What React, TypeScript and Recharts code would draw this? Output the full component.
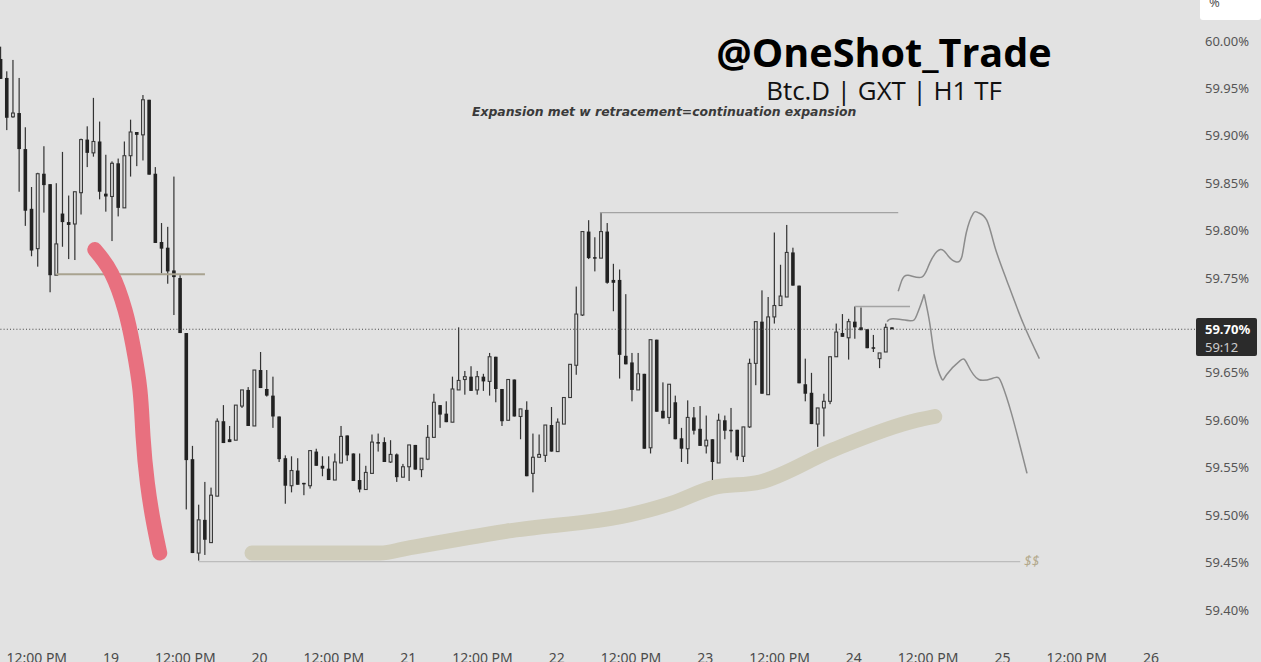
import React from "react";
import { ComposedChart, Bar, Line, XAxis, YAxis, ReferenceLine } from "recharts";

const FONT = "'Noto Sans', sans-serif";

const highs = [59.994,59.968,59.980,59.961,59.909,59.846,59.861,59.889,59.849,59.850,59.883,59.837,59.841,59.897,59.910,59.940,59.915,59.880,59.873,59.876,59.894,59.917,59.904,59.943,59.938,59.867,59.808,59.804,59.857,59.753,
59.692,59.573,59.511,59.535,59.529,59.602,59.616,59.594,59.616,59.632,59.635,59.653,59.672,59.653,59.646,59.604,59.563,59.562,59.560,59.534,59.568,59.570,59.562,59.562,59.565,59.594,59.584,59.565,59.565,59.552,
59.585,59.586,59.582,59.579,59.565,59.554,59.574,59.574,59.560,59.595,59.628,59.616,59.620,59.646,59.698,59.652,59.657,59.652,59.649,59.671,59.667,59.633,59.643,59.643,59.612,59.620,59.586,59.585,59.595,59.614,
59.602,59.624,59.659,59.741,59.799,59.811,59.793,59.819,59.808,59.765,59.759,59.733,59.671,59.671,59.649,59.685,59.685,59.640,59.638,59.626,59.592,59.621,59.614,59.615,59.605,59.580,59.607,59.605,59.613,59.590,
59.593,59.665,59.704,59.737,59.730,59.798,59.764,59.806,59.782,59.742,59.665,59.650,59.613,59.628,59.667,59.702,59.712,59.707,59.720,59.719,59.696,59.690,59.671,59.702,59.698];
const bodyTops = [59.981,59.961,59.924,59.924,59.886,59.823,59.860,59.860,59.849,59.786,59.818,59.809,59.841,59.896,59.896,59.894,59.894,59.839,59.871,59.871,59.879,59.904,59.904,59.938,59.938,59.860,59.788,59.782,59.758,59.750,
59.692,59.559,59.495,59.495,59.521,59.599,59.599,59.580,59.616,59.632,59.632,59.653,59.653,59.633,59.626,59.604,59.560,59.547,59.547,59.534,59.568,59.567,59.552,59.549,59.556,59.583,59.584,59.565,59.537,59.545,
59.577,59.577,59.577,59.564,59.564,59.551,59.574,59.574,59.560,59.582,59.619,59.616,59.607,59.633,59.642,59.646,59.646,59.646,59.646,59.667,59.667,59.633,59.643,59.643,59.612,59.611,59.561,59.564,59.595,59.595,
59.598,59.624,59.659,59.712,59.799,59.799,59.772,59.799,59.799,59.748,59.748,59.668,59.661,59.649,59.649,59.685,59.685,59.610,59.638,59.619,59.581,59.603,59.603,59.591,59.579,59.580,59.600,59.600,59.590,59.590,
59.593,59.660,59.704,59.704,59.709,59.721,59.731,59.777,59.777,59.742,59.638,59.629,59.613,59.620,59.667,59.693,59.692,59.704,59.704,59.698,59.696,59.677,59.671,59.698,59.698];
const bodyBottoms = [59.960,59.919,59.920,59.886,59.821,59.779,59.781,59.848,59.753,59.753,59.809,59.806,59.807,59.840,59.882,59.882,59.841,59.836,59.836,59.824,59.824,59.879,59.901,59.901,59.859,59.787,59.781,59.757,59.751,59.692,
59.558,59.460,59.460,59.474,59.471,59.520,59.576,59.577,59.579,59.615,59.594,59.594,59.634,59.626,59.604,59.559,59.531,59.531,59.532,59.533,59.531,59.552,59.549,59.537,59.537,59.555,59.563,59.536,59.527,59.527,
59.544,59.576,59.556,59.556,59.540,59.540,59.551,59.548,59.548,59.559,59.582,59.606,59.598,59.598,59.632,59.643,59.631,59.632,59.641,59.641,59.633,59.599,59.600,59.604,59.604,59.541,59.544,59.561,59.563,59.567,
59.567,59.596,59.624,59.658,59.711,59.771,59.771,59.771,59.745,59.745,59.669,59.659,59.632,59.632,59.570,59.571,59.609,59.602,59.603,59.580,59.570,59.570,59.589,59.573,59.573,59.556,59.555,59.589,59.589,59.562,
59.562,59.593,59.660,59.628,59.627,59.709,59.721,59.730,59.742,59.639,59.628,59.596,59.596,59.613,59.620,59.667,59.688,59.687,59.698,59.695,59.676,59.676,59.665,59.672,59.696];
const lows = [59.960,59.906,59.919,59.841,59.805,59.773,59.762,59.819,59.735,59.753,59.783,59.770,59.769,59.817,59.867,59.878,59.833,59.820,59.789,59.815,59.824,59.857,59.868,59.874,59.859,59.787,59.755,59.744,59.711,59.692,
59.506,59.460,59.452,59.458,59.471,59.520,59.576,59.577,59.579,59.613,59.594,59.594,59.634,59.625,59.592,59.556,59.512,59.524,59.532,59.521,59.528,59.552,59.541,59.537,59.537,59.555,59.557,59.536,59.524,59.527,
59.544,59.567,59.556,59.555,59.535,59.540,59.536,59.548,59.540,59.558,59.582,59.592,59.598,59.598,59.632,59.627,59.631,59.627,59.631,59.626,59.619,59.594,59.600,59.604,59.580,59.541,59.524,59.561,59.556,59.567,
59.567,59.596,59.624,59.648,59.710,59.770,59.757,59.771,59.744,59.715,59.644,59.659,59.620,59.632,59.570,59.565,59.609,59.602,59.596,59.580,59.556,59.554,59.585,59.573,59.565,59.523,59.555,59.580,59.566,59.558,
59.556,59.592,59.637,59.628,59.627,59.702,59.721,59.730,59.742,59.639,59.620,59.596,59.572,59.583,59.617,59.667,59.688,59.664,59.686,59.695,59.676,59.672,59.655,59.672,59.696];
const risingCandles = [2,6,9,12,13,15,18,20,21,23,32,34,35,38,39,41,47,50,54,55,59,60,63,65,66,68,69,70,73,74,75,77,79,82,84,86,87,88,90,91,92,93,94,97,103,105,108,111,114,116,120,121,122,124,125,126,127,132,133,134,135,137,142,143];

const redT = [15.2,17.9,20.1,21.4,22.5,23.0,23.7,24.7,25.7];
const redV = [59.780,59.755,59.716,59.678,59.632,59.583,59.534,59.492,59.460];
const beigeT = [40.6,61.3,65.6,81.7,103.3,108.6,115.1,122.7,134.5,148,150.9];
const beigeV = [59.460,59.460,59.465,59.483,59.503,59.513,59.529,59.535,59.569,59.600,59.604];
const upperPathT = [145.0,145.6,146.6,148.8,150.1,151.8,153.1,154.4,155.3,156,157.1,157.9,159.3,160.6,162.5,165.2,167.8];
const upperPathV = [59.736,59.748,59.753,59.751,59.766,59.780,59.773,59.767,59.773,59.798,59.818,59.819,59.811,59.783,59.748,59.702,59.665];
const lowerPathT = [143.2,144.2,146.9,148,149,149.3,150.1,150.9,152,152.8,155,156.1,158,160.6,161.7,163.3,165.8];
const lowerPathV = [59.704,59.707,59.705,59.711,59.729,59.729,59.702,59.667,59.644,59.648,59.663,59.660,59.643,59.645,59.639,59.607,59.544];

const priceTicks = [60,59.95,59.9,59.85,59.8,59.75,59.65,59.6,59.55,59.5,59.45,59.4];
const timeTicks = [5.83,17.83,29.83,41.83,53.83,65.83,77.83,89.83,101.83,113.83,125.83,137.83,149.83,161.83,173.83,185.83];
const timeLabels = ["12:00 PM","19","12:00 PM","20","12:00 PM","21","12:00 PM","22","12:00 PM","23","12:00 PM","24","12:00 PM","25","12:00 PM","26"];
const lastPrice = 59.696;

const pairs = (ts: number[], vs: number[]) => ts.map((t, i) => ({ t, v: vs[i] }));
const candles = highs.map((h, i) => ({
  t: i,
  wick: [lows[i], h],
  body: [bodyBottoms[i], bodyTops[i]],
  rising: risingCandles.includes(i),
}));

const xDomain: [number, number] = [-0.108, 192.94];
const yDomain: [number, number] = [59.3451, 60.0432];

const Wick = (p: any) => (
  <rect x={p.x + p.width / 2 - 0.6} y={p.y} width={1.2} height={Math.max(p.height, 1)} fill="#333" />
);
const Body = (p: any) => {
  const h = Math.max(p.height, 1.5);
  return p.payload.rising ? (
    <rect x={p.x + 0.6} y={p.y} width={p.width - 1.2} height={h} fill="#dcdcdc" stroke="#3a3a3a" strokeWidth={1.1} />
  ) : (
    <rect x={p.x + 0.2} y={p.y} width={p.width - 0.4} height={h} fill="#222" />
  );
};
const TimeTick = (p: any) => {
  const i = timeTicks.indexOf(p.payload.value);
  return (
    <text x={p.x} y={663} textAnchor="middle" fontFamily={FONT} fontSize={14} fill="#4a4a4a">
      {timeLabels[i]}
    </text>
  );
};

const lineProps = { xAxisId: "t", dataKey: "v", dot: false, activeDot: false, isAnimationActive: false };

export default function App() {
  return (
    <div style={{ position: "absolute", left: 0, top: 0, width: 1261, height: 662, background: "#e2e2e2", overflow: "hidden" }}>
      <ComposedChart width={1261} height={663} data={candles} margin={{ top: 0, right: 0, bottom: 0, left: 0 }}>
        <XAxis xAxisId="t" dataKey="t" type="number" domain={xDomain} allowDataOverflow ticks={timeTicks} interval={0} height={1} axisLine={false} tickLine={false} tick={TimeTick} />
        <XAxis xAxisId="w" dataKey="t" type="number" domain={xDomain} allowDataOverflow ticks={timeTicks} hide height={0} />
        <XAxis xAxisId="b" dataKey="t" type="number" domain={xDomain} allowDataOverflow ticks={timeTicks} hide height={0} />
        <YAxis orientation="right" width={66} domain={yDomain} allowDataOverflow ticks={priceTicks} interval={0} axisLine={false} tickLine={false} tickMargin={4}
          tickFormatter={(v: number) => v.toFixed(2) + "%"} tick={{ fontFamily: FONT, fontSize: 13, fill: "#555" }} />
        <ReferenceLine xAxisId="t" y={lastPrice} stroke="#444" strokeWidth={1.2} strokeDasharray="1 2.2" />
        <Line {...lineProps} data={pairs(beigeT, beigeV)} type="monotone" stroke="#d0cdbb" strokeWidth={15} strokeLinecap="round" />
        <Bar xAxisId="w" dataKey="wick" barSize={2} shape={Wick} isAnimationActive={false} />
        <Bar xAxisId="b" dataKey="body" barSize={4} shape={Body} isAnimationActive={false} />
        <Line {...lineProps} data={pairs([9, 33], [59.754, 59.754])} stroke="#a9a390" strokeWidth={2} />
        <Line {...lineProps} data={pairs(redT, redV)} type="natural" stroke="#e8707f" strokeWidth={15} strokeLinecap="round" />
        <Line {...lineProps} data={pairs([96.8, 145], [59.819, 59.819])} stroke="#a3a3a3" strokeWidth={1.3} />
        <Line {...lineProps} data={pairs([138, 146.9], [59.72, 59.72])} stroke="#a3a3a3" strokeWidth={1.3} />
        <Line {...lineProps} data={pairs([32, 164.7], [59.451, 59.451])} stroke="#bcbcbc" strokeWidth={1.3} />
        <Line {...lineProps} data={pairs(upperPathT, upperPathV)} type="natural" stroke="#8c8c8c" strokeWidth={1.5} />
        <Line {...lineProps} data={pairs(lowerPathT, lowerPathV)} type="natural" stroke="#8c8c8c" strokeWidth={1.5} />
      </ComposedChart>
      <div style={{ position: "absolute", left: 1200, top: -6, width: 61, height: 26, background: "#fff", borderRadius: 3 }} />
      <div style={{ position: "absolute", left: 1209, top: -7, fontFamily: FONT, fontSize: 13, color: "#555" }}>%</div>
      <div style={{ position: "absolute", left: 1196, top: 318, width: 61, height: 38, background: "#2b2b2b", borderRadius: 2 }} />
      <div style={{ position: "absolute", left: 1205, top: 320, fontFamily: FONT, fontSize: 13, fontWeight: 700, color: "#fff", lineHeight: "18px" }}>59.70%</div>
      <div style={{ position: "absolute", left: 1205, top: 338, fontFamily: FONT, fontSize: 13, color: "#ccc", lineHeight: "18px" }}>59:12</div>
      <div style={{ position: "absolute", left: 1024, top: 552, fontFamily: FONT, fontSize: 14, fontStyle: "italic", color: "#b3a98c", lineHeight: "18px" }}>$$</div>
      <div style={{ position: "absolute", left: 684, top: 26, width: 400, textAlign: "center", fontFamily: "'Open Sans'", fontSize: 39.6, fontWeight: 700, color: "#000", lineHeight: "52px", whiteSpace: "nowrap" }}>@OneShot_Trade</div>
      <div style={{ position: "absolute", left: 734, top: 72, width: 300, textAlign: "center", fontFamily: "'Open Sans'", fontSize: 25.9, color: "#111", lineHeight: "36px", whiteSpace: "nowrap" }}>Btc.D | GXT | H1 TF</div>
      <div style={{ position: "absolute", left: 472, top: 102, fontFamily: "'DejaVu Sans'", fontSize: 12.4, fontWeight: 700, fontStyle: "italic", color: "#3a3a3a", lineHeight: "20px", whiteSpace: "nowrap" }}>Expansion met w retracement=continuation expansion</div>
    </div>
  );
}
